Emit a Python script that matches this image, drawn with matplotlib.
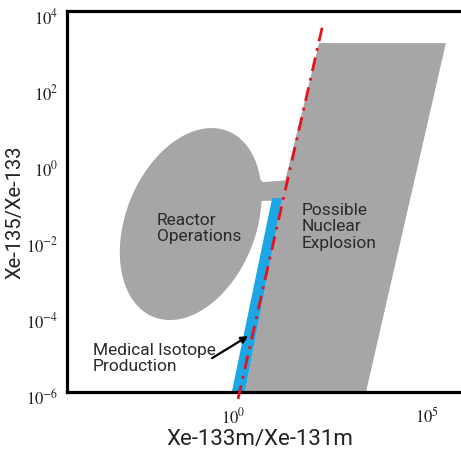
import numpy as np
import matplotlib
matplotlib.use("Agg")
import matplotlib.pyplot as plt
import matplotlib.transforms as mtransforms

plt.rcParams["mathtext.fontset"] = "stix"

# region outlines, in log10 units (x = Xe-133m/Xe-131m, y = Xe-135/Xe-133)
explosion_x = [0.31, 1.26, 2.22, 5.49, 3.43]
explosion_y = [-6.0, -0.80, 3.16, 3.16, -6.0]

medical_x = [-0.03, 0.31, 1.26, 1.01]
medical_y = [-6.0, -6.0, -0.91, -0.91]

neck_x = [0.45, 0.62, 0.77, 1.40, 1.34, 0.64, 0.35]
neck_y = [-0.15, -0.33, -0.49, -0.44, -0.96, -0.99, -0.93]

# reactor ellipse: centre, semi-axes (decades), tilt
reactor_center = (-1.09, -1.59)
reactor_axes = (2.62, 1.68)
reactor_angle = 69

# discrimination line end points
line_x = [0.13, 2.32]
line_y = [-6.18, 3.66]

# arrow to the medical isotope band
arrow_tail = (-0.54, -5.11)
arrow_head = (0.39, -4.53)

x_ticks = [0, 5]
y_ticks = [-6, -4, -2, 0, 2, 4]

gray = "#a6a6a6"
blue = "#1ba6e6"
red = "#e3141c"
text_col = "#2a2a2a"


def pw(v):
    return 10 ** np.asarray(v, dtype=float)


fig = plt.figure(figsize=(4.61, 4.56), dpi=100)
ax = fig.add_axes([0.1453, 0.138, 0.8547, 0.8355])
ax.set_xscale("log")
ax.set_yscale("log")
ax.set_xlim(pw(-4.28), pw(5.88))
ax.set_ylim(pw(-6), pw(4))

# reactor operations blob
t = np.linspace(0, 2 * np.pi, 300)
a, b = reactor_axes
th = np.radians(reactor_angle)
ex = reactor_center[0] + a * np.cos(t) * np.cos(th) - b * np.sin(t) * np.sin(th)
ey = reactor_center[1] + a * np.cos(t) * np.sin(th) + b * np.sin(t) * np.cos(th)
ax.fill(pw(ex), pw(ey), color=gray, lw=0)
ax.fill(pw(neck_x), pw(neck_y), color=gray, lw=0)

ax.fill(pw(explosion_x), pw(explosion_y), color=gray, lw=0)
ax.fill(pw(medical_x), pw(medical_y), color=blue, lw=0)

ax.plot(pw(line_x), pw(line_y), color=red, lw=2, ls=(0, (5, 2.5, 1, 2.5)),
        clip_on=False, zorder=5)

ax.text(pw(-1.96), pw(-1.68), "Reactor\nOperations", family="Roboto",
        fontsize=12.5, color=text_col, ha="left", va="center", linespacing=1.15)
ax.text(pw(1.78), pw(-1.64), "Possible\nNuclear\nExplosion", family="Roboto",
        fontsize=12.5, color=text_col, ha="left", va="center", linespacing=1.15)
ax.text(pw(-3.61), pw(-5.09), "Medical Isotope\nProduction", family="Roboto",
        fontsize=12.5, color=text_col, ha="left", va="center", linespacing=1.15)
ax.annotate("", xy=pw(arrow_head), xytext=pw(arrow_tail),
            arrowprops=dict(arrowstyle="-|>", color="black", lw=1.6,
                            shrinkA=0, shrinkB=0, mutation_scale=10))

ax.set_xticks(pw(x_ticks))
ax.set_xticklabels([rf"$\mathrm{{10^{{{k}}}}}$" for k in x_ticks])
ax.set_yticks(pw(y_ticks))
ax.set_yticklabels([rf"$\mathrm{{10^{{{k}}}}}$" for k in y_ticks])
ax.minorticks_off()
ax.tick_params(length=0, labelsize=12, labelcolor="#222222")
ax.tick_params(axis="x", pad=10)
ax.tick_params(axis="y", pad=6)
off = mtransforms.ScaledTranslation(0, -4 / 100, fig.dpi_scale_trans)
for lab in ax.get_yticklabels():
    lab.set_transform(lab.get_transform() + off)

for s in ["left", "bottom", "top"]:
    ax.spines[s].set_linewidth(2.3)
ax.spines["right"].set_visible(False)

ax.set_xlabel("Xe-133m/Xe-131m", family="Roboto", fontsize=16, color="#222222")
ax.set_ylabel("Xe-135/Xe-133", family="Roboto", fontsize=14.5, color="#222222")
ax.xaxis.set_label_coords(0.49, -0.095)
ax.yaxis.set_label_coords(-0.108, 0.475)

fig.savefig("out.png", dpi=100)
